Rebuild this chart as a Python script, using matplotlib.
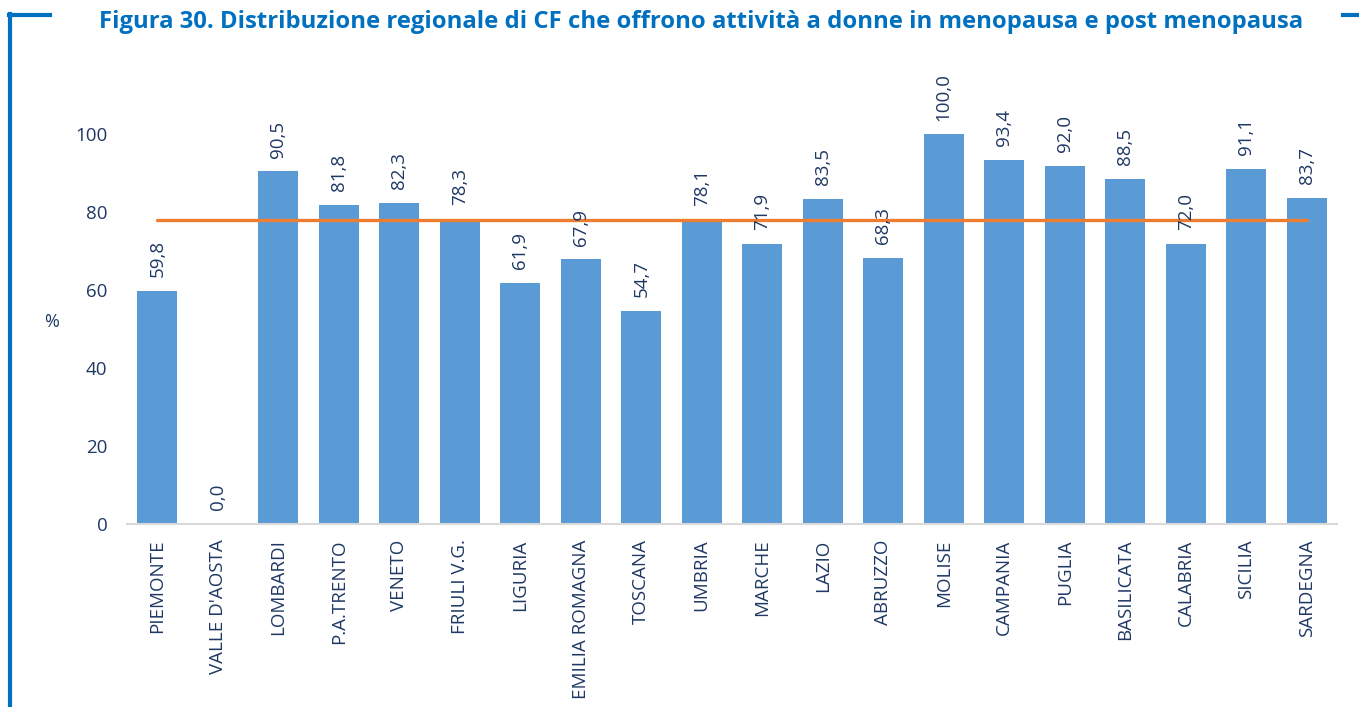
import matplotlib.pyplot as plt
import numpy as np

regions = ["PIEMONTE", "VALLE D'AOSTA", "LOMBARDI", "P.A.TRENTO", "VENETO",
           "FRIULI V.G.", "LIGURIA", "EMILIA ROMAGNA", "TOSCANA", "UMBRIA",
           "MARCHE", "LAZIO", "ABRUZZO", "MOLISE", "CAMPANIA", "PUGLIA",
           "BASILICATA", "CALABRIA", "SICILIA", "SARDEGNA"]
values = [59.8, 0.0, 90.5, 81.8, 82.3, 78.3, 61.9, 67.9, 54.7, 78.1,
          71.9, 83.5, 68.3, 100.0, 93.4, 92.0, 88.5, 72.0, 91.1, 83.7]
italia = 78.0
yticks = [0, 20, 40, 60, 80, 100]

title = "Figura 30. Distribuzione regionale di CF che offrono attività a donne in menopausa e post menopausa"

txt = '#1F3864'
blue = '#0070C0'

plt.rcParams['font.family'] = ['Open Sans', 'DejaVu Sans']

fig = plt.figure(figsize=(13.59, 7.07), dpi=100)
ax = fig.add_axes([127/1359, 1 - 524/707, 1210/1359, 448/707])

x = np.arange(len(regions))
ax.bar(x, values, width=0.66, color='#5B9BD5', zorder=2)
ax.plot(x, [italia] * len(x), color='#ED7D31', lw=2.4, zorder=3,
        solid_capstyle='round')

for xi, v in zip(x, values):
    ax.annotate(f"{v:.1f}".replace('.', ','), (xi, v), xytext=(0, 10),
                textcoords='offset points', rotation=90, ha='center',
                va='bottom', fontsize=13.5, color=txt)

ax.set_xlim(-0.5, len(regions) - 0.5)
ax.set_ylim(0, 115)
ax.set_yticks(yticks)
ax.set_yticklabels([str(t) for t in yticks], fontsize=13.5, color=txt)
ax.set_xticks(x)
ax.set_xticklabels(regions, rotation=90, fontsize=13.5, color=txt)
ax.tick_params(length=0, pad=14)
ax.tick_params(axis='x', pad=11)
for s in ['top', 'right', 'left']:
    ax.spines[s].set_visible(False)
ax.spines['bottom'].set_color('#D9D9D9')
ax.spines['bottom'].set_linewidth(1.5)

fig.text(52/1359, 1 - 322/707, '%', fontsize=13, color=txt,
         ha='center', va='center')

fig.text(701/1359, 1 - 22/707, title, fontsize=17.2, fontweight='bold',
         color=blue, ha='center', va='center')

# blue frame
fig.add_artist(plt.Line2D([10/1359, 10/1359], [0, 1 - 14/707],
                          color=blue, lw=3, transform=fig.transFigure))
fig.add_artist(plt.Line2D([8.5/1359, 50/1359], [1 - 15/707, 1 - 15/707],
                          color=blue, lw=3, transform=fig.transFigure))
fig.add_artist(plt.Line2D([1343/1359, 1], [1 - 15/707, 1 - 15/707],
                          color=blue, lw=3, transform=fig.transFigure))

fig.savefig('out.png', dpi=100)
